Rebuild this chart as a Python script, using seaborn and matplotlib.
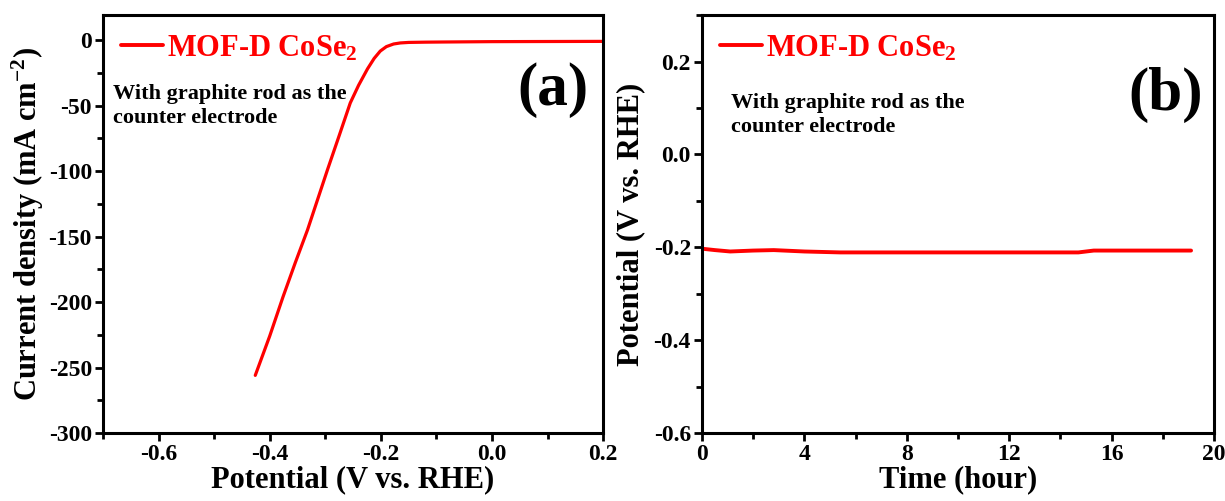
import numpy as np
import pandas as pd
import matplotlib
matplotlib.use("Agg")
import matplotlib.pyplot as plt
import seaborn as sns
from matplotlib.ticker import MultipleLocator

# ---- data ----
lsv_potential = [-0.426, -0.400, -0.376, -0.354, -0.332, -0.314, -0.296, -0.275, -0.255, -0.240,
                 -0.224, -0.212, -0.201, -0.190, -0.177, -0.165, -0.150, -0.120, -0.093, 0.0, 0.1, 0.2]
lsv_current = [-256, -226, -196, -170, -145, -122, -99, -73, -48, -34.5,
               -22, -14, -8.4, -5.0, -3.0, -2.2, -1.8, -1.6, -1.5, -1.2, -1.1, -1.0]

time_hour = [0.0, 0.5, 1.1, 2.0, 2.8, 4.0, 5.4, 7.5, 9.9, 12.5, 14.7, 15.3, 17.0, 18.7, 19.1]
stab_potential = [-0.203, -0.206, -0.209, -0.207, -0.206, -0.209, -0.211, -0.211, -0.211, -0.211,
                  -0.211, -0.207, -0.207, -0.207, -0.207]

series_label = "MOF-D CoSe$_2$"
note_text = "With graphite rod as the\ncounter electrode"

sns.set_theme(style="ticks")
plt.rcParams['font.family'] = ['Liberation Serif', 'DejaVu Serif']
plt.rcParams['font.weight'] = 'bold'
plt.rcParams['axes.unicode_minus'] = False
plt.rcParams['mathtext.fontset'] = 'custom'
plt.rcParams['mathtext.rm'] = 'Liberation Serif:bold'
plt.rcParams['mathtext.bf'] = 'Liberation Serif:bold'
plt.rcParams['mathtext.it'] = 'Liberation Serif:bold'
plt.rcParams['mathtext.default'] = 'regular'
plt.rcParams['text.color'] = 'black'
plt.rcParams['axes.labelcolor'] = 'black'
plt.rcParams['xtick.color'] = 'black'
plt.rcParams['ytick.color'] = 'black'

fig = plt.figure(figsize=(12.25, 5.01), dpi=100)
ax1 = fig.add_axes([0.0841, 0.1357, 0.4082, 0.834])
ax2 = fig.add_axes([0.5731, 0.1357, 0.4180, 0.834])

df1 = pd.DataFrame({"x": lsv_potential, "y": lsv_current})
df2 = pd.DataFrame({"x": time_hour, "y": stab_potential})

sns.lineplot(data=df1, x="x", y="y", ax=ax1, color="#ff0000", linewidth=2.3, label=series_label)
sns.lineplot(data=df2, x="x", y="y", ax=ax2, color="#ff0000", linewidth=2.8, label=series_label)

ax1.set_xlim(-0.7, 0.2)
ax1.set_ylim(-300, 19)
ax1.xaxis.set_minor_locator(MultipleLocator(0.1))
ax1.yaxis.set_major_locator(MultipleLocator(50))
ax1.yaxis.set_minor_locator(MultipleLocator(25))
ax1.set_xticks([-0.6, -0.4, -0.2, 0.0, 0.2])
ax1.set_xticklabels(["-0.6", "-0.4", "-0.2", "0.0", "0.2"])

ax2.set_xlim(0, 20)
ax2.set_ylim(-0.6, 0.3)
ax2.xaxis.set_major_locator(MultipleLocator(4))
ax2.xaxis.set_minor_locator(MultipleLocator(2))
ax2.yaxis.set_minor_locator(MultipleLocator(0.1))
ax2.set_yticks([-0.6, -0.4, -0.2, 0.0, 0.2])
ax2.set_yticklabels(["-0.6", "-0.4", "-0.2", "0.0", "0.2"])

ax1.set_xlabel("Potential (V vs. RHE)", fontsize=22, fontweight='bold', labelpad=0)
ax1.set_ylabel("Current density (mA cm$^{-2}$)", fontsize=22, fontweight='bold', labelpad=2)
ax2.set_xlabel("Time (hour)", fontsize=22, fontweight='bold', labelpad=0)
ax2.set_ylabel("Potential (V vs. RHE)", fontsize=22, fontweight='bold', labelpad=6)

for ax in (ax1, ax2):
    for s in ax.spines.values():
        s.set_linewidth(2.2)
        s.set_color('black')
        s.set_visible(True)
    ax.tick_params(which='major', direction='out', length=6, width=2, labelsize=17, pad=2, colors='black')
    ax.tick_params(which='minor', direction='out', length=4, width=2)
    for lab in ax.get_xticklabels() + ax.get_yticklabels():
        lab.set_fontweight('bold')
    leg = ax.legend(loc='upper left', frameon=False, handlelength=1.35, handletextpad=0.15,
                    borderaxespad=0.3, borderpad=0.3,
                    prop={'family': 'Liberation Serif', 'weight': 'bold', 'size': 22},
                    labelcolor='#ff0000')
    for h in leg.get_lines():
        h.set_linewidth(2.8)

ax1.text(0.02, 0.835, note_text, transform=ax1.transAxes, fontsize=16, fontweight='bold',
         va='top', ha='left', linespacing=1.25, color='black')
ax2.text(0.057, 0.813, note_text, transform=ax2.transAxes, fontsize=16, fontweight='bold',
         va='top', ha='left', linespacing=1.25, color='black')

ax1.text(0.90, 0.82, "(a)", transform=ax1.transAxes, fontsize=44, fontweight='bold',
         ha='center', va='center', color='black')
ax2.text(0.905, 0.81, "(b)", transform=ax2.transAxes, fontsize=44, fontweight='bold',
         ha='center', va='center', color='black')

fig.savefig("out.png", dpi=100)
